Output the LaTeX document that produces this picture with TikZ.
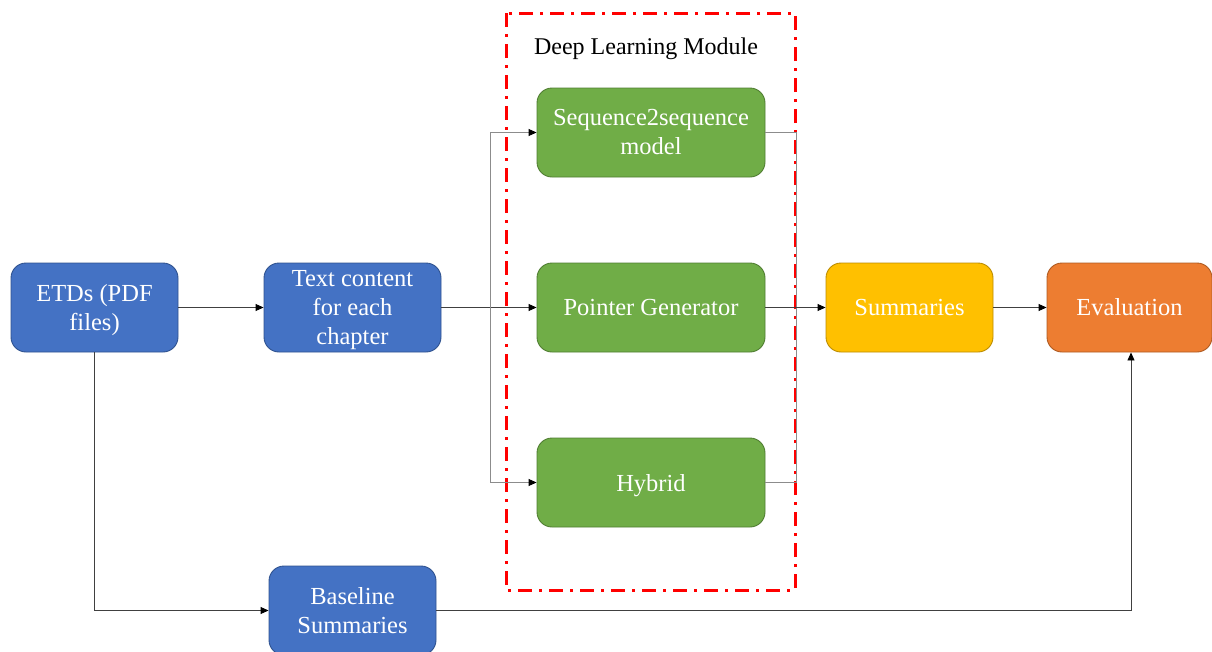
\documentclass[tikz,border=0pt]{standalone}
\usepackage{fontspec}
\setmainfont{Liberation Serif}
\usetikzlibrary{arrows.meta}
\definecolor{boxblue}{HTML}{4472C4}
\definecolor{boxblueline}{HTML}{2F528F}
\definecolor{boxgreen}{HTML}{70AD47}
\definecolor{boxgreenline}{HTML}{507E32}
\definecolor{boxyellow}{HTML}{FFC000}
\definecolor{boxyellowline}{HTML}{BC8C00}
\definecolor{boxorange}{HTML}{ED7D31}
\definecolor{boxorangeline}{HTML}{AE5A21}
\definecolor{modred}{HTML}{FF0000}
\definecolor{wire}{HTML}{404040}
\definecolor{buswire}{HTML}{8C8C8C}
% last line without descender depth, so the block centres on its baselines
\newcommand{\nodepth}[1]{\raisebox{0pt}[\height][0pt]{#1}}
\tikzset{
  stage/.style={rounded corners=15pt, line width=0.9pt, inner sep=0pt,
    minimum height=89pt, text=white, align=center,
    font=\fontsize{24.5}{29}\selectfont},
  bluestage/.style={stage, fill=boxblue, draw=boxblueline, minimum width=167pt},
  greenstage/.style={stage, fill=boxgreen, draw=boxgreenline, minimum width=228pt},
  yellowstage/.style={stage, fill=boxyellow, draw=boxyellowline, minimum width=167pt},
  orangestage/.style={stage, fill=boxorange, draw=boxorangeline, minimum width=165pt},
  tip/.tip={Triangle[length=8pt, width=7pt, fill=black, color=black]},
  link/.style={draw=wire, line width=0.9pt, -tip},
  bus/.style={draw=buswire, line width=0.9pt},
  modulebox/.style={draw=modred, line width=3pt,
    dash pattern=on 14pt off 7pt on 3pt off 7pt},
}
\begin{document}
\begin{tikzpicture}[x=1pt, y=-1pt]
  \useasboundingbox (0,0) rectangle (1212,651);
  \clip (0,0) rectangle (1212,651);

  % deep learning module frame
  \draw[modulebox] (506,13) rectangle (795,590);
  \node[font=\fontsize{24}{29}\selectfont] (modlabel) at (646,48.5) {Deep Learning Module};

  % stages
  \node[bluestage] (etd) at (94.5,307.5) {ETDs (PDF\\\nodepth{files)}};
  \node[bluestage, minimum width=177pt] (txt) at (352.5,307.5) {Text content\\for each\\\nodepth{chapter}};
  \node[greenstage] (s2s) at (651,132.5) {Sequence2sequence\\model};
  \node[greenstage] (pg) at (651,307.5) {Pointer Generator};
  \node[greenstage] (hyb) at (651,482.5) {\nodepth{Hybrid}};
  \node[yellowstage] (sum) at (909.5,307.5) {Summaries};
  \node[orangestage] (eval) at (1129.5,307.5) {Evaluation};
  \node[bluestage] (base) at (352.5,610.5) {Baseline\\Summaries};

  % branch points of the model bus
  \coordinate (fanout) at (490,307.5);
  \coordinate (fanin) at (796.5,307.5);

  % connectors
  \draw[link] (etd.east) -- (txt.west);
  \draw[link] (txt.east) -- (pg.west);
  \draw[bus, -tip] (fanout) |- (s2s.west);
  \draw[bus, -tip] (fanout) |- (hyb.west);
  \draw[bus] (s2s.east) -| (fanin) |- (hyb.east);
  \draw[link] (pg.east) -- (sum.west);
  \draw[link] (sum.east) -- (eval.west);
  \draw[link] (etd.south) |- (base.west);
  \draw[link] (base.east) -| ([xshift=1.5pt]eval.south);
\end{tikzpicture}
\end{document}
